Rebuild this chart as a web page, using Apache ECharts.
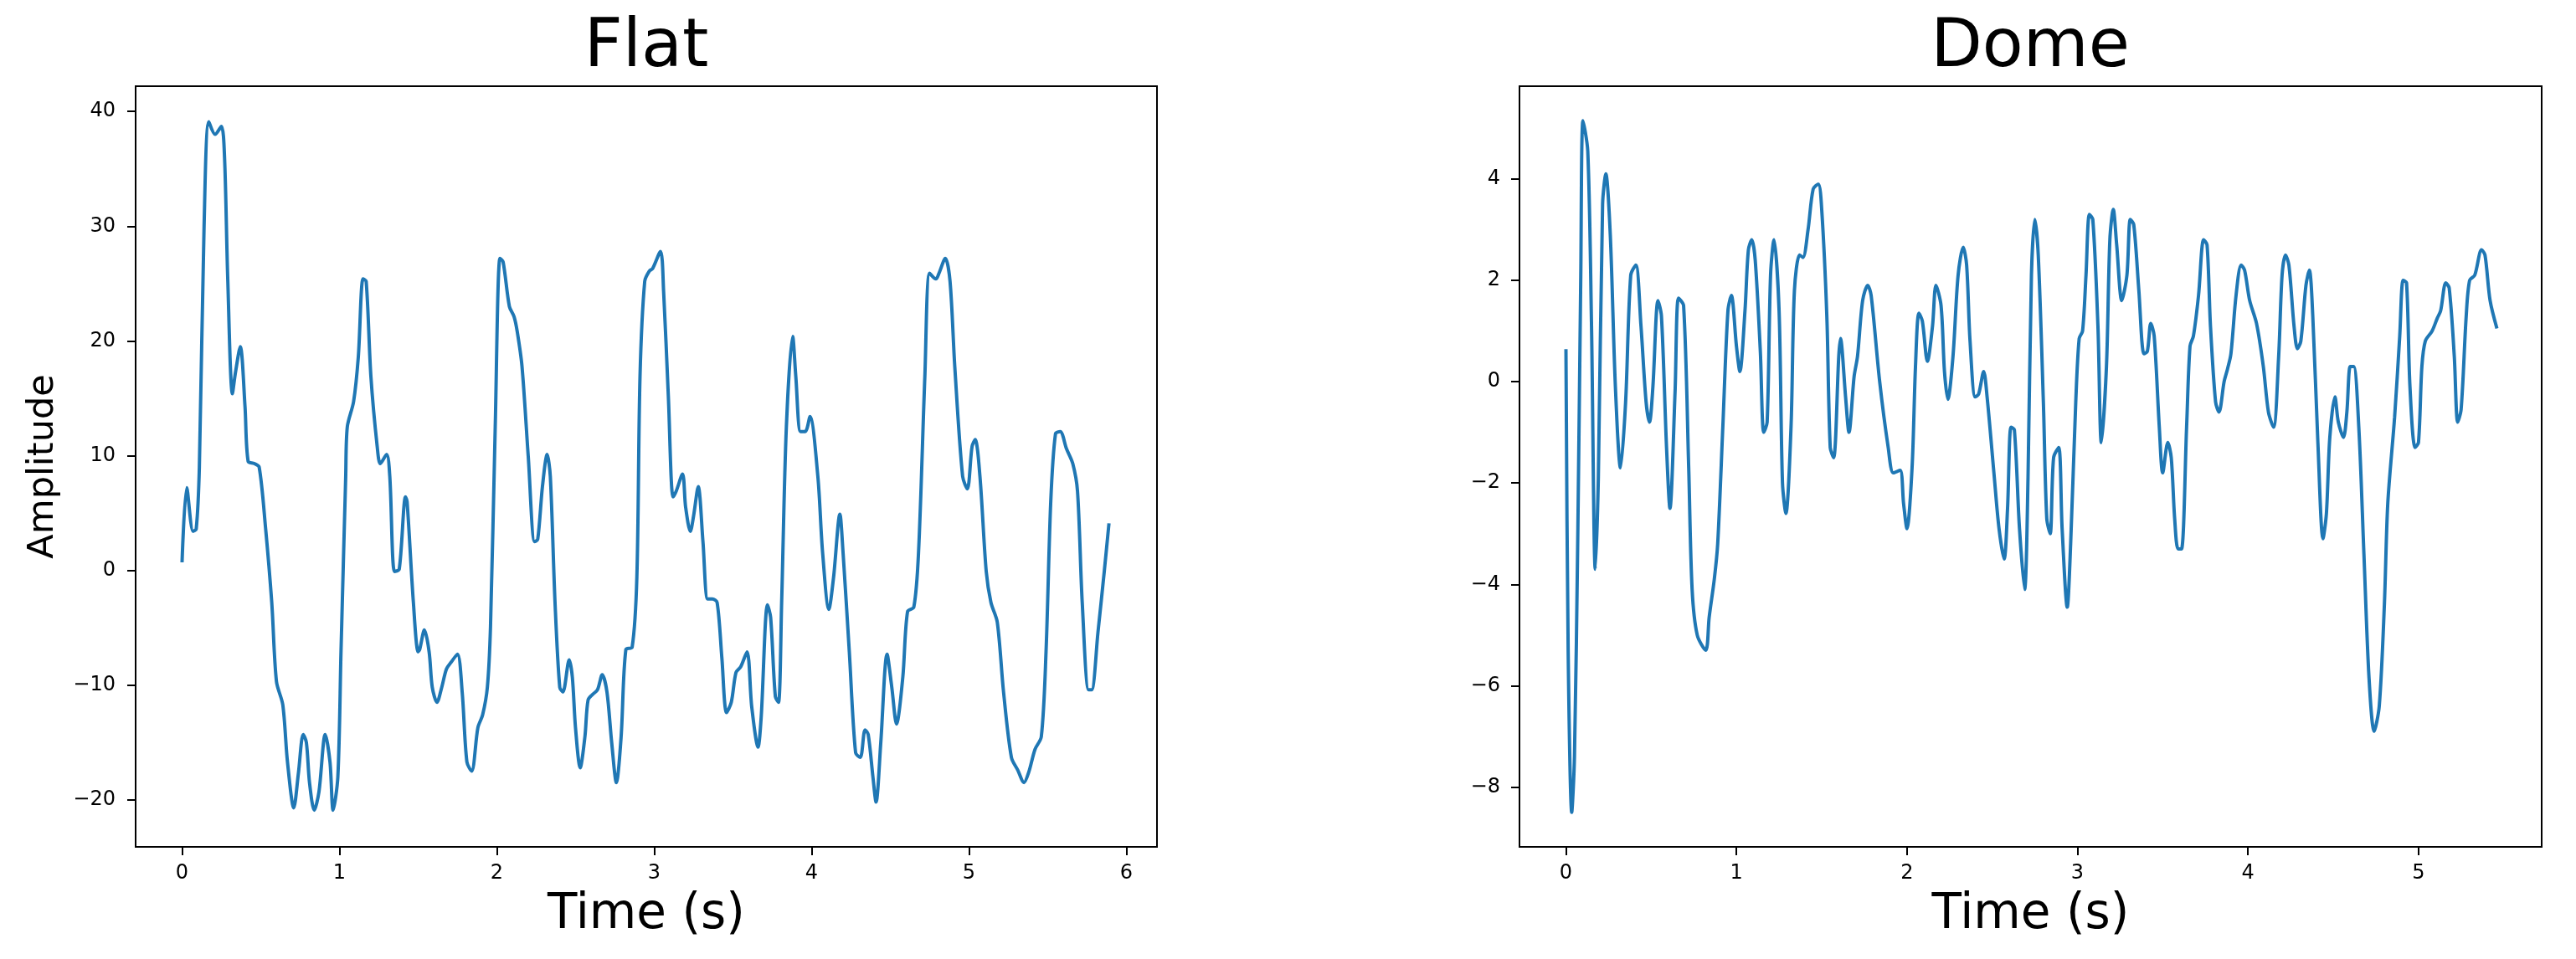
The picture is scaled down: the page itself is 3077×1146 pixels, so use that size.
<!DOCTYPE html>
<html>
<head>
<meta charset="utf-8">
<script src="https://cdn.jsdelivr.net/npm/echarts@6/dist/echarts.min.js"></script>
<style>
  html, body { margin: 0; padding: 0; background: #fff; }
  #chart { width: 3077px; height: 1146px; }
</style>
</head>
<body>
<div id="chart"></div>
<script>
// Flat: time (s) and amplitude
const flatTime = [
  0, 0.03, 0.07, 0.09, 0.11, 0.14, 0.17, 0.21, 0.25, 0.27, 0.29, 0.32, 0.34, 0.37, 0.40, 0.42, 0.46, 0.49,
  0.53, 0.57, 0.60, 0.64, 0.67, 0.71, 0.74, 0.77, 0.79, 0.81, 0.84, 0.87, 0.91, 0.94, 0.96, 0.99,
  1.01, 1.04, 1.05, 1.09, 1.12, 1.15, 1.17, 1.20, 1.24, 1.26, 1.30, 1.32, 1.35, 1.38, 1.42, 1.43, 1.47,
  1.50, 1.51, 1.54, 1.57, 1.59, 1.62, 1.65, 1.68, 1.71, 1.75, 1.78, 1.81, 1.84, 1.88, 1.91, 1.94, 1.96, 1.99,
  2.02, 2.04, 2.08, 2.11, 2.13, 2.16, 2.20, 2.24, 2.26, 2.29, 2.32, 2.34, 2.37, 2.40, 2.42, 2.46, 2.48,
  2.50, 2.53, 2.56, 2.58, 2.61, 2.64, 2.67, 2.70, 2.73, 2.76, 2.79, 2.82, 2.86, 2.89, 2.91, 2.94, 2.97, 2.99,
  3.04, 3.06, 3.09, 3.12, 3.14, 3.18, 3.20, 3.23, 3.25, 3.28, 3.31, 3.34, 3.37, 3.40, 3.43, 3.46, 3.49,
  3.52, 3.55, 3.59, 3.62, 3.66, 3.68, 3.72, 3.74, 3.77, 3.79, 3.81, 3.84, 3.88, 3.90, 3.93, 3.96, 3.99,
  4.04, 4.07, 4.11, 4.14, 4.18, 4.20, 4.24, 4.28, 4.31, 4.34, 4.36, 4.39, 4.41, 4.44, 4.48, 4.51, 4.54,
  4.58, 4.61, 4.65, 4.68, 4.72, 4.75, 4.79, 4.81, 4.85, 4.88, 4.91, 4.96, 4.99, 5.02, 5.04, 5.07, 5.11,
  5.14, 5.18, 5.22, 5.27, 5.31, 5.35, 5.38, 5.42, 5.46, 5.49, 5.52, 5.55, 5.58, 5.62, 5.66, 5.69, 5.72,
  5.76, 5.78, 5.82, 5.86, 5.89
];
const flatAmp = [
  0.7, 7.2, 3.4, 3.6, 9, 30, 39.1, 38, 38.7, 36, 25.6, 15.4, 17.3, 19.5, 14.3, 9.5, 9.3, 9,
  3.8, -2.8, -9.7, -11.7, -16.7, -20.7, -17.6, -14.3, -15, -18.5, -20.9, -19.3, -14.3, -16.7, -20.9, -18,
  -7.1, 8.2, 12.5, 14.7, 18.6, 25.4, 25.2, 16.9, 10.8, 9.3, 10.1, 8.2, -0.1, 0.1, 6.4, 6, -2.8,
  -7.1, -6.9, -5.2, -7.1, -10.2, -11.5, -10.2, -8.6, -8, -7.3, -10.6, -16.7, -17.5, -13.7, -12.6, -10.2, -4.9, 12.5,
  27.2, 26.9, 23, 22.1, 20.8, 17.8, 9.9, 2.5, 2.7, 7.3, 10.1, 8.2, -2.8, -10.2, -10.6, -7.8, -9.3,
  -13.7, -17.2, -14.5, -11.3, -10.8, -10.4, -9.1, -10.6, -15, -18.5, -14.5, -6.9, -6.7, -0.6, 16.9, 25.2, 26.1, 26.3,
  27.8, 24.3, 15.2, 6.4, 6.9, 8.4, 5.5, 3.4, 4.7, 7.3, 2.5, -2.5, -2.5, -2.8, -7.6, -12.4, -11.5,
  -8.9, -8.4, -7.1, -11.9, -15.4, -12.8, -3, -4.1, -11, -11.5, -2.8, 12.5, 20.4, 16.9, 12.1, 12.1, 13.4,
  8.2, 1.6, -3.4, -0.6, 4.9, 1.6, -7.1, -15.9, -16.3, -13.9, -14.3, -18, -20.2, -15, -7.3, -10.2, -13.4,
  -9.3, -3.6, -3.2, 1.6, 16.9, 25.9, 25.4, 25.9, 27.2, 25.2, 17.8, 8.2, 7.1, 10.8, 11.4, 8.2, -0.1,
  -2.8, -4.5, -10.6, -16.3, -17.4, -18.5, -17.6, -15.6, -14.5, -7.1, 6, 11.9, 12.1, 10.6, 9.3, 6.9, -2.8,
  -10.4, -10.4, -5.4, -0.1, 4.1
];

// Dome: time (s) and amplitude
const domeTime = [
  0, 0.013, 0.034, 0.05, 0.07, 0.087, 0.10, 0.128, 0.15, 0.172, 0.19, 0.215, 0.234, 0.26, 0.29, 0.32, 0.35,
  0.38, 0.41, 0.44, 0.47, 0.49, 0.51, 0.54, 0.56, 0.59, 0.61, 0.64, 0.66, 0.69, 0.72, 0.74, 0.77, 0.82,
  0.84, 0.87, 0.89, 0.92, 0.95, 0.97, 1.0, 1.02, 1.05, 1.07, 1.09, 1.11, 1.14, 1.16, 1.18, 1.20, 1.22,
  1.25, 1.27, 1.29, 1.32, 1.34, 1.37, 1.39, 1.42, 1.45, 1.48, 1.50, 1.53, 1.55, 1.57, 1.60, 1.61, 1.64,
  1.66, 1.69, 1.71, 1.74, 1.77, 1.79, 1.84, 1.89, 1.92, 1.96, 1.98, 2.0, 2.03, 2.05, 2.07, 2.09, 2.12,
  2.15, 2.17, 2.20, 2.22, 2.24, 2.27, 2.30, 2.33, 2.35, 2.37, 2.40, 2.42, 2.45, 2.47, 2.51, 2.54, 2.57,
  2.59, 2.61, 2.63, 2.66, 2.69, 2.71, 2.73, 2.75, 2.77, 2.80, 2.82, 2.84, 2.86, 2.89, 2.91, 2.94, 2.96,
  2.99, 3.01, 3.03, 3.05, 3.07, 3.09, 3.12, 3.14, 3.17, 3.19, 3.21, 3.23, 3.26, 3.29, 3.31, 3.33, 3.36,
  3.39, 3.41, 3.43, 3.45, 3.48, 3.50, 3.53, 3.55, 3.57, 3.59, 3.61, 3.64, 3.66, 3.68, 3.71, 3.74, 3.76,
  3.78, 3.81, 3.83, 3.86, 3.88, 3.90, 3.93, 3.96, 3.98, 4.01, 4.05, 4.09, 4.12, 4.15, 4.18, 4.20, 4.22,
  4.24, 4.27, 4.29, 4.31, 4.34, 4.36, 4.38, 4.41, 4.44, 4.46, 4.48, 4.51, 4.53, 4.56, 4.58, 4.60, 4.62,
  4.65, 4.68, 4.71, 4.74, 4.77, 4.80, 4.82, 4.86, 4.89, 4.91, 4.93, 4.95, 4.98, 5.00, 5.02, 5.04, 5.08,
  5.11, 5.13, 5.16, 5.18, 5.21, 5.23, 5.25, 5.28, 5.30, 5.33, 5.37, 5.39, 5.42, 5.46
];
const domeAmp = [
  0.64, -5.3, -8.5, -7.4, -2.9, 2.1, 5.15, 4.55, 1.1, -3.7, -1.9, 3.5, 4.1, 2.9, -0.1, -1.7, -0.4,
  2.1, 2.3, 1.1, -0.4, -0.8, -0.1, 1.6, 1.3, -1.3, -2.5, -0.2, 1.65, 1.5, -1.7, -4.1, -5.0, -5.3,
  -4.65, -3.9, -3.2, -0.9, 1.4, 1.7, 0.7, 0.2, 1.4, 2.6, 2.8, 2.4, 0.6, -1.0, -0.8, 2.1, 2.8,
  1.4, -2.0, -2.6, -0.9, 1.8, 2.5, 2.45, 3.0, 3.8, 3.9, 3.4, 1.3, -1.3, -1.5, 0.5, 0.85, -0.3,
  -1.0, 0.1, 0.5, 1.6, 1.9, 1.7, 0, -1.3, -1.8, -1.75, -2.4, -2.9, -1.7, 0.3, 1.35, 1.2, 0.4,
  1.1, 1.9, 1.5, 0.2, -0.35, 0.5, 2.1, 2.65, 2.3, 0.8, -0.3, -0.25, 0.2, -0.3, -1.8, -2.9, -3.5,
  -2.5, -0.9, -0.95, -2.9, -4.1, -1.9, 2.1, 3.2, 2.5, -0.4, -2.7, -3.0, -1.5, -1.3, -2.9, -4.45, -3.2,
  -0.4, 0.85, 1.0, 2.1, 3.3, 3.2, 1.1, -1.2, 0.3, 2.8, 3.4, 2.7, 1.6, 2.1, 3.2, 3.1, 1.8,
  0.55, 0.6, 1.15, 0.9, -0.9, -1.8, -1.2, -1.5, -2.7, -3.3, -3.3, -0.9, 0.7, 0.9, 1.7, 2.8, 2.7,
  1.1, -0.4, -0.6, 0, 0.25, 0.55, 1.7, 2.3, 2.2, 1.6, 1.15, 0.3, -0.6, -0.9, 0.5, 2.1, 2.5,
  2.3, 1.1, 0.65, 0.8, 1.9, 2.2, 1.3, -1.2, -3.1, -2.6, -1.1, -0.3, -0.8, -1.1, -0.6, 0.3, 0.3,
  -0.9, -3.4, -5.85, -6.9, -6.4, -4.4, -2.4, -0.7, 0.9, 2.0, 1.95, -0.1, -1.3, -1.2, 0.3, 0.8, 1.0,
  1.25, 1.4, 1.95, 1.85, 0.5, -0.8, -0.55, 1.3, 2.0, 2.1, 2.6, 2.5, 1.6, 1.05
];

// tick values
const flatXTicks = [0, 1, 2, 3, 4, 5, 6];
const flatYTicks = [-20, -10, 0, 10, 20, 30, 40];
const domeXTicks = [0, 1, 2, 3, 4, 5];
const domeYTicks = [-8, -6, -4, -2, 0, 2, 4];

const FONT = 'DejaVu Sans';
const LINE_COLOR = '#1f77b4';

const minusFmt = v => String(v).replace('-', '\u2212');

function xAxisCfg(gridIndex, min, max, ticks) {
  return {
    type: 'value',
    gridIndex,
    min,
    max,
    name: 'Time (s)',
    nameLocation: 'middle',
    nameGap: 53,
    nameTextStyle: { fontFamily: FONT, fontSize: 58, color: '#000', lineHeight: 58 },
    axisLine: { show: true, onZero: false, lineStyle: { color: '#000', width: 2 } },
    axisTick: { show: true, inside: false, length: 10, customValues: ticks, lineStyle: { color: '#000', width: 2 } },
    axisLabel: { customValues: ticks, fontFamily: FONT, fontSize: 24, color: '#000', margin: 20, formatter: minusFmt },
    splitLine: { show: false }
  };
}

function yAxisCfg(gridIndex, min, max, ticks, margin, name) {
  return {
    type: 'value',
    gridIndex,
    min,
    max,
    name: name || '',
    nameLocation: 'middle',
    nameRotate: 90,
    nameGap: 89,
    nameTextStyle: { fontFamily: FONT, fontSize: 43, color: '#000', lineHeight: 43 },
    axisLine: { show: true, onZero: false, lineStyle: { color: '#000', width: 2 } },
    axisTick: { show: true, inside: false, length: 10, customValues: ticks, lineStyle: { color: '#000', width: 2 } },
    axisLabel: { customValues: ticks, fontFamily: FONT, fontSize: 24, color: '#000', margin, formatter: minusFmt },
    splitLine: { show: false }
  };
}

const chart = echarts.init(document.getElementById('chart'), null, { renderer: 'canvas' });

const option = {
  backgroundColor: '#fff',
  animation: false,
  title: [
    { text: 'Flat', left: 772, top: 18, padding: 0, textAlign: 'center',
      textStyle: { fontFamily: FONT, fontSize: 80, fontWeight: 'normal', color: '#000', lineHeight: 80 } },
    { text: 'Dome', left: 2425, top: 18, padding: 0, textAlign: 'center',
      textStyle: { fontFamily: FONT, fontSize: 80, fontWeight: 'normal', color: '#000', lineHeight: 80 } }
  ],
  grid: [
    { left: 162, top: 103, width: 1220, height: 909, show: true, borderColor: '#000', borderWidth: 2, backgroundColor: 'transparent' },
    { left: 1815, top: 103, width: 1221, height: 909, show: true, borderColor: '#000', borderWidth: 2, backgroundColor: 'transparent' }
  ],
  xAxis: [
    xAxisCfg(0, -0.295, 6.195, flatXTicks),
    xAxisCfg(1, -0.2725, 5.7225, domeXTicks)
  ],
  yAxis: [
    yAxisCfg(0, -24.1, 42.2, flatYTicks, 24, 'Amplitude'),
    yAxisCfg(1, -9.18, 5.83, domeYTicks, 23, '')
  ],
  series: [
    {
      name: 'Flat',
      type: 'line',
      xAxisIndex: 0,
      yAxisIndex: 0,
      data: flatTime.map((t, i) => [t, flatAmp[i]]),
      showSymbol: false,
      smooth: 0.3,
      lineStyle: { color: LINE_COLOR, width: 4 }
    },
    {
      name: 'Dome',
      type: 'line',
      xAxisIndex: 1,
      yAxisIndex: 1,
      data: domeTime.map((t, i) => [t, domeAmp[i]]),
      showSymbol: false,
      smooth: 0.3,
      lineStyle: { color: LINE_COLOR, width: 4 }
    }
  ]
};

chart.setOption(option);
</script>
</body>
</html>
